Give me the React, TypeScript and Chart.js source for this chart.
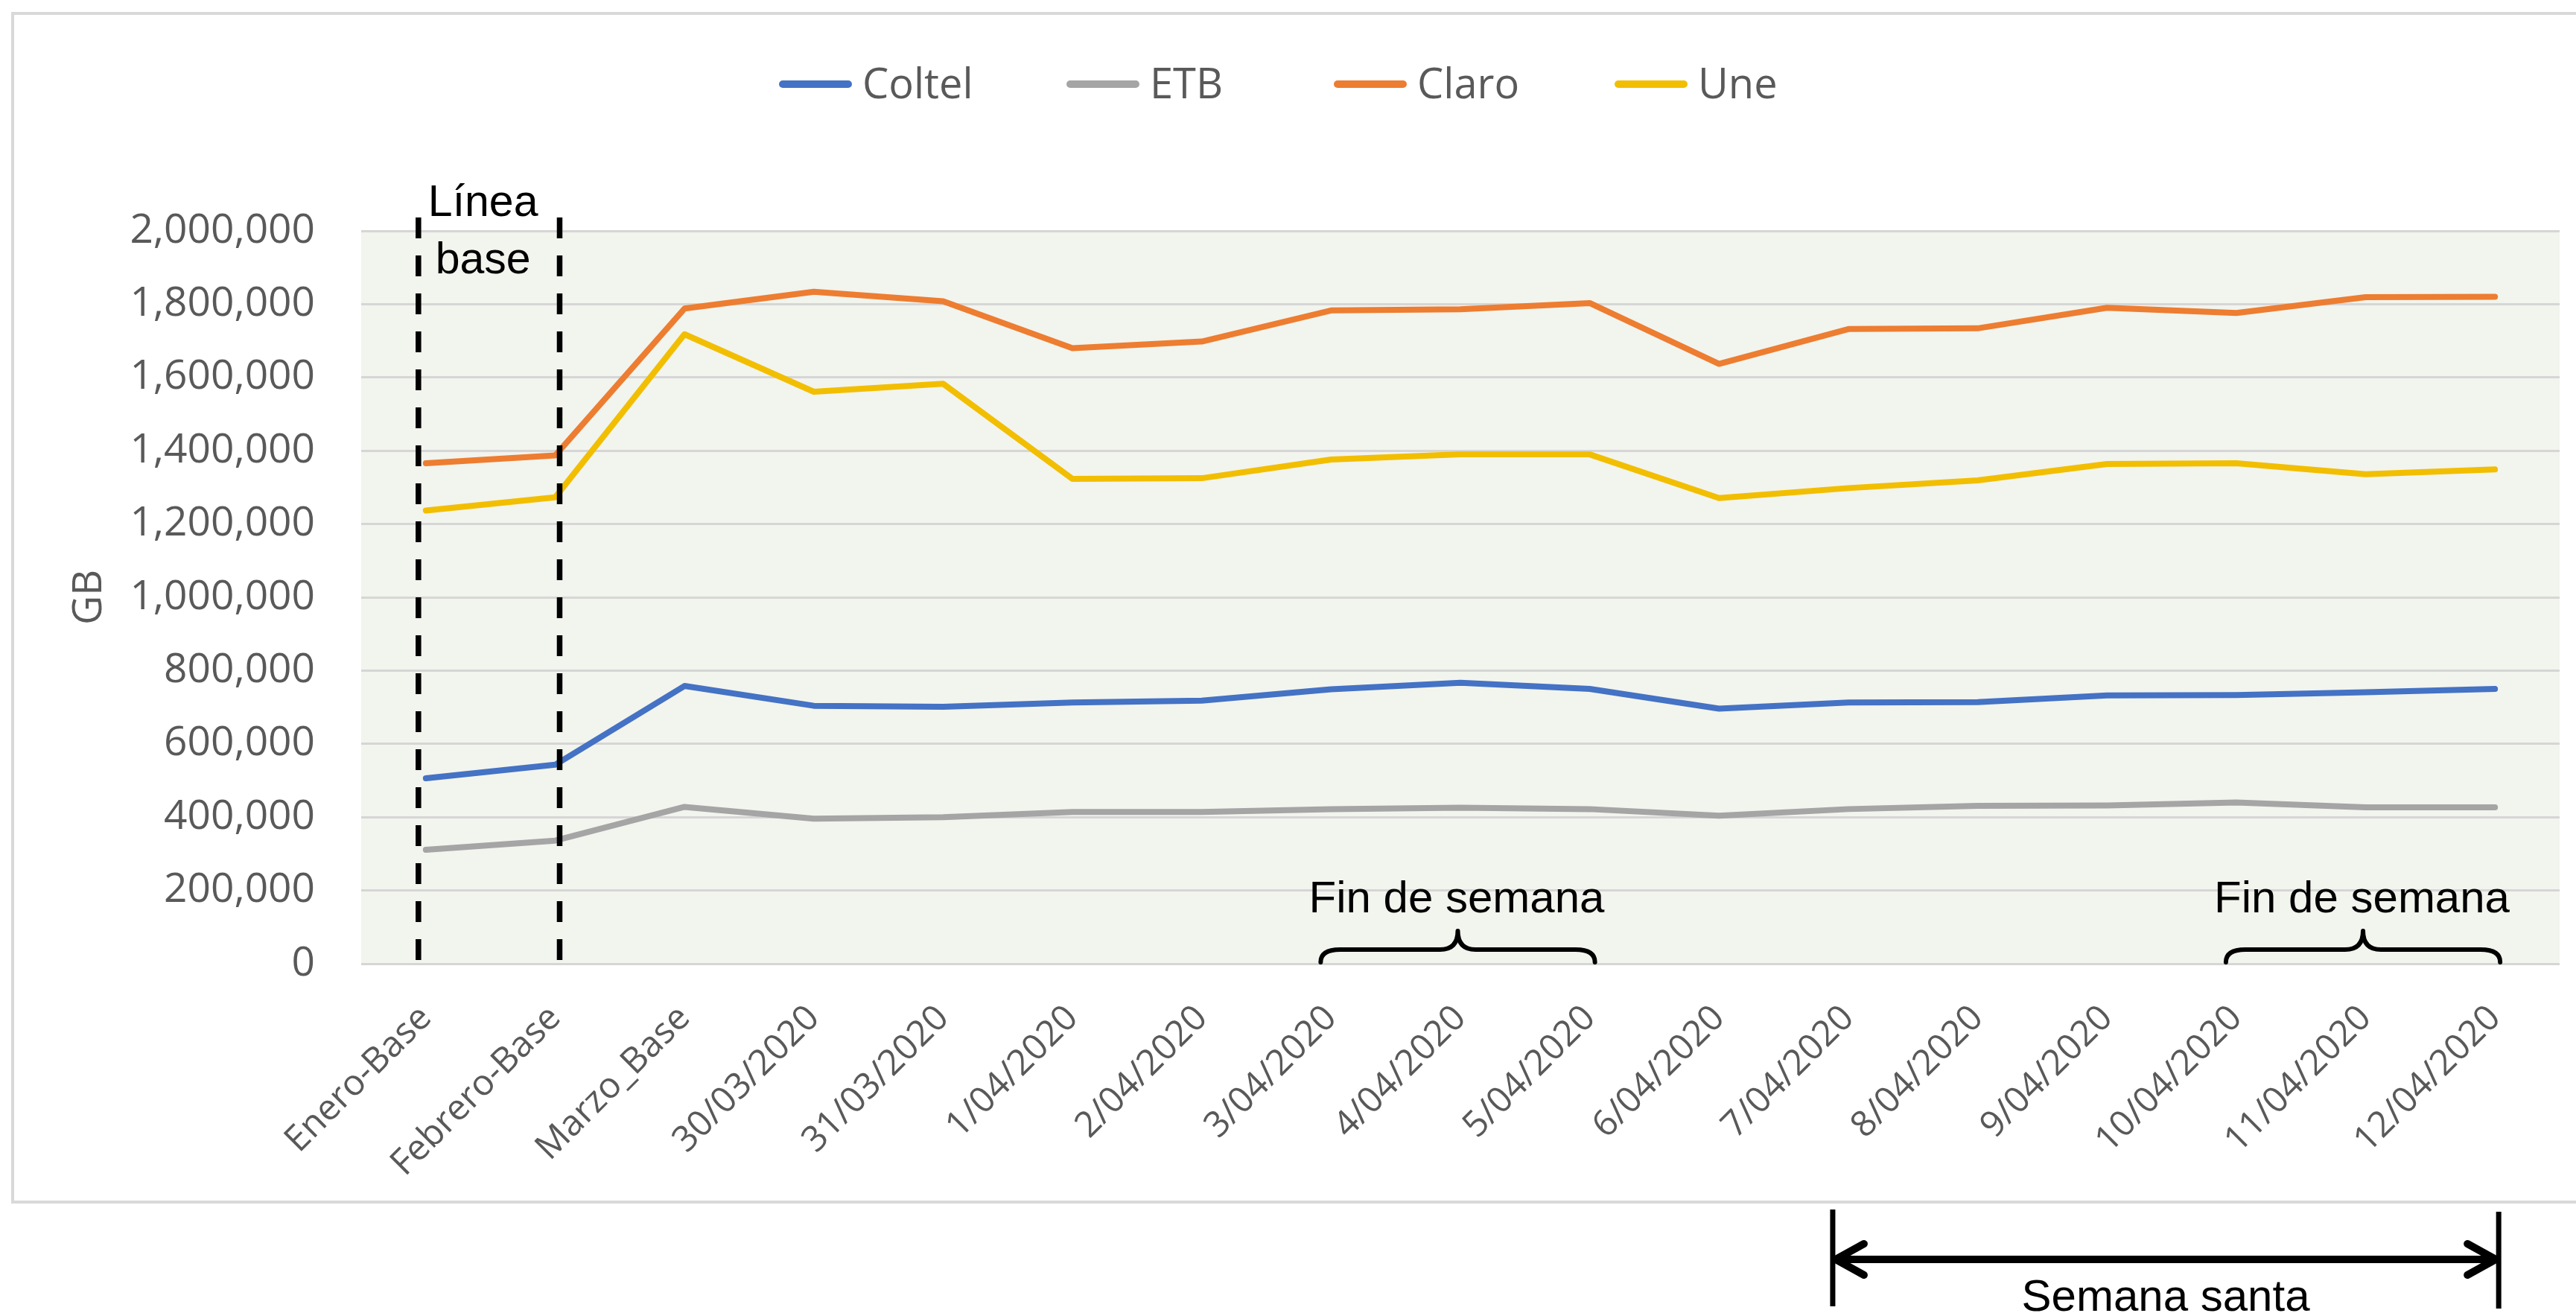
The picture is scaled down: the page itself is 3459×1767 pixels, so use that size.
import React, { useEffect, useRef } from 'react';
import { Chart, registerables } from 'chart.js';

Chart.register(...registerables);

// ---------- data ----------
const categories = [
  'Enero-Base', 'Febrero-Base', 'Marzo_Base', '30/03/2020', '31/03/2020',
  '1/04/2020', '2/04/2020', '3/04/2020', '4/04/2020', '5/04/2020',
  '6/04/2020', '7/04/2020', '8/04/2020', '9/04/2020', '10/04/2020',
  '11/04/2020', '12/04/2020',
];
const coltel = [506000, 543000, 758000, 704000, 701000, 713000, 718000, 749000, 767000, 750000, 696000, 713000, 714000, 732000, 733000, 741000, 750000];
const etb = [311000, 336000, 428000, 396000, 400000, 414000, 414000, 422000, 426000, 422000, 404000, 422000, 431000, 432000, 440000, 427000, 427000];
const claro = [1366000, 1387000, 1788000, 1834000, 1808000, 1680000, 1698000, 1783000, 1786000, 1803000, 1637000, 1732000, 1734000, 1790000, 1776000, 1819000, 1820000];
const une = [1237000, 1273000, 1718000, 1561000, 1583000, 1323000, 1325000, 1376000, 1390000, 1390000, 1271000, 1298000, 1319000, 1364000, 1366000, 1336000, 1349000];

const seriesNames = ['Coltel', 'ETB', 'Claro', 'Une'];
const seriesColors = ['#4472C4', '#A5A5A5', '#ED7D31', '#F2BE00'];
const seriesValues = [coltel, etb, claro, une];

const yMin = 0;
const yMax = 2000000;
const yStep = 200000;
const yTitle = 'GB';

const baseLabel = ['Línea', 'base'];
const weekendLabel = 'Fin de semana';
const holyWeekLabel = 'Semana santa';
// category indices spanned by annotations
const weekendSpans = [[7, 9], [14, 16]];
const holyWeekSpan = [11, 16];

// ---------- layout ----------
const W = 3459;
const H = 1767;
const PLOT_TOP = 310;
const PLOT_BOTTOM = 1294;
const PLOT_LEFT = 485;
const PLOT_RIGHT = 3437;
const legendStarts = [1046, 1432, 1791, 2168];

const TICK_COLOR = '#595959';
const NOTE_FONT = '"Liberation Sans", Arial, sans-serif';
const AXIS_FONT = '"Open Sans", sans-serif';

function drawBrace(ctx: CanvasRenderingContext2D, x1: number, x2: number) {
  const yb = 1292;
  const yh = 1275;
  const yt = 1250;
  const xm = (x1 + x2) / 2;
  ctx.beginPath();
  ctx.moveTo(x1, yb);
  ctx.quadraticCurveTo(x1, yh, x1 + 26, yh);
  ctx.lineTo(xm - 24, yh);
  ctx.quadraticCurveTo(xm, yh, xm, yt);
  ctx.quadraticCurveTo(xm, yh, xm + 24, yh);
  ctx.lineTo(x2 - 26, yh);
  ctx.quadraticCurveTo(x2, yh, x2, yb);
  ctx.stroke();
}

const decorPlugin = {
  id: 'decor',
  beforeDraw(chart: any) {
    const { ctx, chartArea: a } = chart;
    ctx.save();
    ctx.fillStyle = '#FFFFFF';
    ctx.fillRect(0, 0, W, H);
    ctx.fillStyle = '#F2F4EE';
    ctx.fillRect(a.left, a.top, a.right - a.left, a.bottom - a.top);
    ctx.strokeStyle = '#D9D9D9';
    ctx.lineWidth = 4;
    ctx.strokeRect(17, 18, W + 40, 1614 - 18);
    ctx.restore();
  },
  afterDatasetsDraw(chart: any) {
    const { ctx, chartArea: a } = chart;
    const xs = chart.scales.x;
    const px = (i: number) => xs.getPixelForValue(i);
    ctx.save();

    // dashed baseline markers
    ctx.strokeStyle = '#000000';
    ctx.lineWidth = 7.5;
    ctx.setLineDash([28, 23]);
    [px(0) - 10, px(1) + 6].forEach((x) => {
      ctx.beginPath();
      ctx.moveTo(x, 292);
      ctx.lineTo(x, a.bottom);
      ctx.stroke();
    });
    ctx.setLineDash([]);

    // "Línea base"
    ctx.fillStyle = '#000000';
    ctx.font = `59px ${NOTE_FONT}`;
    ctx.textAlign = 'center';
    ctx.textBaseline = 'alphabetic';
    const bx = (px(0) + px(1)) / 2 - 10;
    ctx.fillText(baseLabel[0], bx, 290);
    ctx.fillText(baseLabel[1], bx, 367);

    // weekend braces
    ctx.font = `60px ${NOTE_FONT}`;
    ctx.lineWidth = 6;
    ctx.lineCap = 'round';
    ctx.lineJoin = 'round';
    weekendSpans.forEach(([s, e]) => {
      const x1 = px(s) - 14;
      const x2 = px(e) + 7;
      drawBrace(ctx, x1, x2);
      ctx.fillText(weekendLabel, (px(s) + px(e)) / 2 - 5, 1225);
    });
    ctx.restore();
  },
  afterDraw(chart: any) {
    const { ctx } = chart;
    const xs = chart.scales.x;
    const px = (i: number) => xs.getPixelForValue(i);
    ctx.save();

    // holy week arrow
    const xl = px(holyWeekSpan[0]) - 21;
    const xr = px(holyWeekSpan[1]) + 5;
    const ya = 1691;
    ctx.strokeStyle = '#000000';
    ctx.lineWidth = 7;
    ctx.lineCap = 'butt';
    ctx.beginPath();
    ctx.moveTo(xl, 1624);
    ctx.lineTo(xl, 1754);
    ctx.moveTo(xr, 1627);
    ctx.lineTo(xr, 1757);
    ctx.stroke();
    ctx.lineWidth = 10;
    ctx.beginPath();
    ctx.moveTo(xl + 3, ya);
    ctx.lineTo(xr - 3, ya);
    ctx.stroke();
    ctx.lineCap = 'round';
    ctx.lineJoin = 'round';
    ctx.beginPath();
    ctx.moveTo(xl + 42, ya - 21);
    ctx.lineTo(xl + 4, ya);
    ctx.lineTo(xl + 42, ya + 21);
    ctx.moveTo(xr - 42, ya - 21);
    ctx.lineTo(xr - 4, ya);
    ctx.lineTo(xr - 42, ya + 21);
    ctx.stroke();
    ctx.fillStyle = '#000000';
    ctx.font = `60px ${NOTE_FONT}`;
    ctx.textAlign = 'center';
    ctx.textBaseline = 'alphabetic';
    ctx.fillText(holyWeekLabel, (xl + xr) / 2, 1760);

    // legend
    const ly = 113;
    ctx.font = `56px ${AXIS_FONT}`;
    ctx.textAlign = 'left';
    chart.data.datasets.forEach((ds: any, i: number) => {
      const x0 = legendStarts[i];
      ctx.strokeStyle = ds.borderColor;
      ctx.lineWidth = 10;
      ctx.lineCap = 'round';
      ctx.beginPath();
      ctx.moveTo(x0 + 5, ly);
      ctx.lineTo(x0 + 93, ly);
      ctx.stroke();
      ctx.fillStyle = TICK_COLOR;
      ctx.fillText(ds.label, x0 + 112, 132);
    });
    ctx.restore();
  },
};

export default function App() {
  const ref = useRef<HTMLCanvasElement>(null);

  useEffect(() => {
    if (!ref.current) return;
    const chart = new Chart(ref.current, {
      type: 'line',
      data: {
        labels: categories,
        datasets: seriesNames.map((name, i) => ({
          label: name,
          data: seriesValues[i],
          borderColor: seriesColors[i],
          backgroundColor: seriesColors[i],
          borderWidth: 8,
          pointRadius: 0,
          pointHoverRadius: 0,
          tension: 0,
          fill: false,
          borderJoinStyle: 'round' as const,
          borderCapStyle: 'round' as const,
        })),
      },
      options: {
        responsive: false,
        animation: false,
        devicePixelRatio: 1,
        layout: {
          padding: { top: PLOT_TOP, right: W - PLOT_RIGHT, bottom: 0, left: 0 },
        },
        plugins: {
          legend: { display: false },
          tooltip: { enabled: false },
        },
        scales: {
          x: {
            type: 'category',
            offset: true,
            grid: { display: false, drawTicks: false },
            border: { display: false },
            ticks: {
              color: TICK_COLOR,
              font: { family: AXIS_FONT, size: 48 },
              minRotation: 45,
              maxRotation: 45,
              padding: 45,
              autoSkip: false,
            },
            afterFit: (scale: any) => {
              scale.height = H - PLOT_BOTTOM;
            },
          },
          y: {
            min: yMin,
            max: yMax,
            grid: { color: '#D6D6D6', lineWidth: 3, drawTicks: false },
            border: { display: false },
            ticks: {
              stepSize: yStep,
              color: TICK_COLOR,
              font: { family: AXIS_FONT, size: 55 },
              padding: 62,
              callback: (v: any) => Number(v).toLocaleString('en-US'),
            },
            title: {
              display: true,
              text: yTitle,
              color: TICK_COLOR,
              font: { family: AXIS_FONT, size: 54 },
              padding: { top: 88, bottom: 0 },
            },
            afterFit: (scale: any) => {
              scale.width = PLOT_LEFT;
            },
          },
        },
      },
      plugins: [decorPlugin],
    });
    return () => chart.destroy();
  }, []);

  return (
    <div style={{ position: 'fixed', left: 0, top: 0, width: W, height: H, background: '#ffffff' }}>
      <canvas ref={ref} width={W} height={H} style={{ width: W, height: H, display: 'block' }} />
    </div>
  );
}
